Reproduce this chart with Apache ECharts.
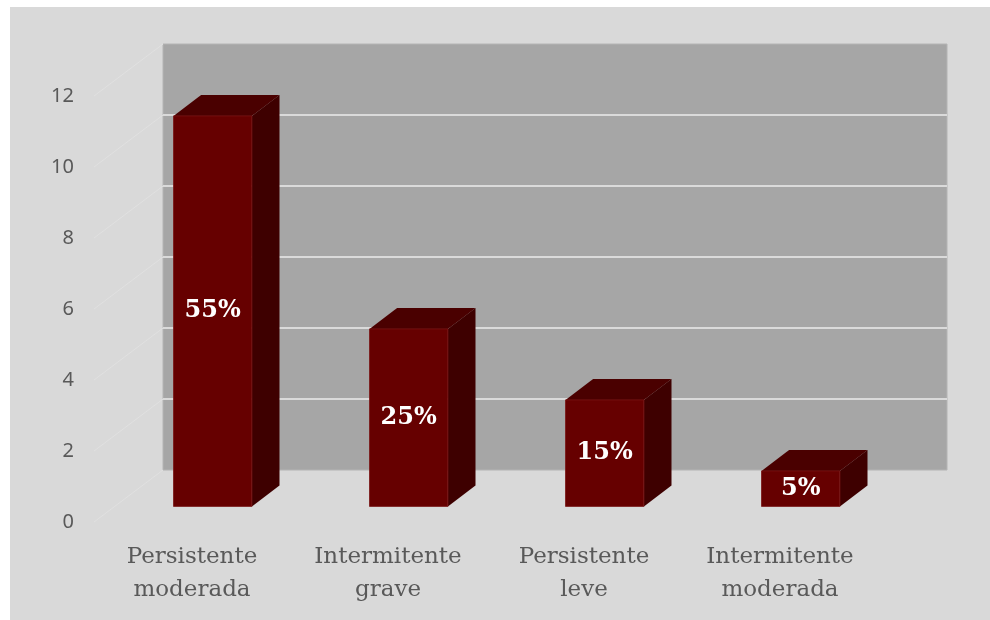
<!DOCTYPE html>
<html>
<head>
<meta charset="utf-8">
<script src="https://cdn.jsdelivr.net/npm/echarts@6/dist/echarts.min.js"></script>
<style>
  html, body { margin: 0; padding: 0; background: #ffffff; }
  #frame { position: absolute; left: 10px; top: 7px; width: 980px; height: 613px; background: #d9d9d9; }
  #chart { position: absolute; left: 0; top: 0; width: 990px; height: 620px; }
</style>
</head>
<body>
<div id="frame"></div>
<div id="chart"></div>
<script>
// Severity categories and patient counts
const categories = ['Persistente\nmoderada', 'Intermitente\ngrave', 'Persistente\nleve', 'Intermitente\nmoderada'];
const counts = [11, 5, 3, 1];
// Value axis range
const yMin = 0;
const yMax = 12;
const yStep = 2;

const total = counts.reduce((a, b) => a + b, 0);
const yTicks = [];
for (let v = yMin; v <= yMax; v += yStep) yTicks.push(v);

// Oblique depth of the pseudo-3D box (front plane -> back wall), pixels
const DEPTH = [69, -52];
// Bars sit in the middle 40% of the depth, 40% of the band width
const DEPTH_FROM = 0.3, DEPTH_TO = 0.7, BAR_FRAC = 0.4;

const FRONT = { left: 94, right: 112, top: 96, bottom: 98 };
const BACK = {
  left: FRONT.left + DEPTH[0], right: FRONT.right - DEPTH[0],
  top: FRONT.top + DEPTH[1], bottom: FRONT.bottom - DEPTH[1]
};

const chart = echarts.init(document.getElementById('chart'), null, { renderer: 'canvas' });

chart.setOption({
  backgroundColor: 'transparent',
  animation: false,
  grid: [
    Object.assign({ containLabel: false }, FRONT),
    Object.assign({
      containLabel: false, show: true,
      backgroundColor: '#a6a6a6', borderColor: '#b4b4b4', borderWidth: 1
    }, BACK)
  ],
  xAxis: [
    {
      type: 'category', gridIndex: 0, data: categories,
      axisLine: { show: false }, axisTick: { show: false },
      axisLabel: {
        margin: 19, color: '#595959', fontFamily: 'DejaVu Serif',
        fontSize: 23, lineHeight: 33, interval: 0
      }
    },
    {
      type: 'category', gridIndex: 1, data: categories,
      axisLine: { show: false }, axisTick: { show: false }, axisLabel: { show: false }
    }
  ],
  yAxis: [
    {
      type: 'value', gridIndex: 0, min: yMin, max: yMax, interval: yStep,
      axisLine: { show: false }, axisTick: { show: false }, splitLine: { show: false },
      axisLabel: { margin: 20, color: '#595959', fontFamily: 'Noto Sans', fontSize: 20 }
    },
    {
      type: 'value', gridIndex: 1, min: yMin, max: yMax, interval: yStep,
      axisLine: { show: false }, axisTick: { show: false }, axisLabel: { show: false },
      splitLine: { show: true, showMinLine: false, showMaxLine: false, lineStyle: { color: '#dadada', width: 2 } }
    }
  ],
  series: [
    {
      // receding gridlines on the left side wall
      type: 'custom', xAxisIndex: 0, yAxisIndex: 0, clip: false, silent: true,
      data: yTicks.map(v => [0, v]),
      renderItem: function (params, api) {
        const x0 = params.coordSys.x;
        const y0 = api.coord([0, api.value(1)])[1];
        return {
          type: 'line',
          shape: { x1: x0, y1: y0, x2: x0 + DEPTH[0], y2: y0 + DEPTH[1] },
          style: { stroke: '#e0e0e0', lineWidth: 1 }
        };
      }
    },
    {
      type: 'custom', xAxisIndex: 0, yAxisIndex: 0, clip: false,
      data: counts.map((v, i) => [i, v]),
      renderItem: function (params, api) {
        const idx = api.value(0), val = api.value(1);
        const base = api.coord([idx, 0]);
        const top = api.coord([idx, val]);
        const w = api.size([1, 0])[0] * BAR_FRAC;
        const dx0 = DEPTH[0] * DEPTH_FROM, dy0 = DEPTH[1] * DEPTH_FROM;
        const dx1 = DEPTH[0] * DEPTH_TO, dy1 = DEPTH[1] * DEPTH_TO;
        const xl = base[0] - w / 2, xr = base[0] + w / 2;
        const yb = base[1], yt = top[1];
        const pct = Math.round(val / total * 100) + '%';
        return {
          type: 'group',
          children: [
            {
              type: 'polygon',
              shape: { points: [[xr + dx0, yt + dy0], [xr + dx1, yt + dy1], [xr + dx1, yb + dy1], [xr + dx0, yb + dy0]] },
              style: { fill: '#3e0000' }
            },
            {
              type: 'polygon',
              shape: { points: [[xl + dx0, yt + dy0], [xr + dx0, yt + dy0], [xr + dx1, yt + dy1], [xl + dx1, yt + dy1]] },
              style: { fill: '#4a0000' }
            },
            {
              type: 'rect',
              shape: { x: xl + dx0, y: yt + dy0, width: w, height: yb - yt },
              style: { fill: '#660000', stroke: '#7a1515', lineWidth: 0.8 }
            },
            {
              type: 'text',
              x: base[0] + dx0, y: (yt + yb) / 2 + dy0,
              style: {
                text: pct, fill: '#ffffff', fontFamily: 'DejaVu Serif', fontWeight: 'bold',
                fontSize: 24, align: 'center', verticalAlign: 'middle'
              }
            }
          ]
        };
      }
    }
  ]
});
</script>
</body>
</html>
